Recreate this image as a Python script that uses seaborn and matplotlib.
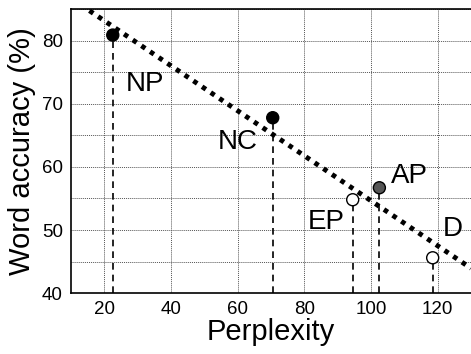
import matplotlib
matplotlib.use("Agg")
import matplotlib.pyplot as plt
import seaborn as sns
import pandas as pd

# Data
labels = ["NP", "NC", "EP", "AP", "D"]
perplexity = [22.5, 70.5, 94.5, 102.5, 118.5]
accuracy = [80.9, 67.8, 54.8, 56.7, 45.6]
face_colors = ["black", "black", "white", "#555555", "white"]
label_x = [26.5, 54.0, 81.0, 106.0, 121.5]
label_y = [73.2, 64.0, 51.3, 58.6, 50.1]

df = pd.DataFrame({"perplexity": perplexity, "accuracy": accuracy})

sns.set_style("white")
plt.rcParams['font.family'] = ['Liberation Sans', 'DejaVu Sans']
plt.rcParams['text.color'] = 'black'
plt.rcParams['axes.labelcolor'] = 'black'
plt.rcParams['xtick.color'] = 'black'
plt.rcParams['ytick.color'] = 'black'

fig = plt.figure(figsize=(4.71, 3.54), dpi=100)
ax = fig.add_axes([0.151, 0.172, 0.849, 0.802])
ax.set_xlim(10, 130)
ax.set_ylim(40, 85)

# grid: vertical at major ticks, horizontal every 5
ax.set_xticks([20, 40, 60, 80, 100, 120])
ax.set_yticks([40, 50, 60, 70, 80])
ax.set_yticks([45, 55, 65, 75, 85], minor=True)
ax.grid(True, which='major', color='#555555', linestyle=(0, (1, 1)), linewidth=0.7)
ax.grid(True, which='minor', axis='y', color='#555555', linestyle=(0, (1, 1)), linewidth=0.7)
ax.set_axisbelow(True)

# dashed drop lines
ax.vlines(df["perplexity"], 40, df["accuracy"], colors='black',
          linestyles=(0, (4, 3)), linewidth=1.2, zorder=2)

# regression trend line across full axis
sns.regplot(data=df, x="perplexity", y="accuracy", ax=ax, ci=None,
            truncate=False, scatter=False,
            line_kws={'color': 'black', 'linewidth': 3.5,
                      'linestyle': (0, (0.95, 1.2)), 'zorder': 3,
                      'dash_capstyle': 'butt'})

sns.scatterplot(data=df, x="perplexity", y="accuracy", ax=ax, s=75,
                c=face_colors, edgecolor='black', linewidth=1.0, zorder=4)

for lab, lx, ly in zip(labels, label_x, label_y):
    ax.text(lx, ly, lab, fontsize=20, va='center', ha='left', color='black', zorder=5)

ax.set_xlim(10, 130)
ax.set_ylim(40, 85)
ax.set_xlabel("Perplexity", fontsize=21, labelpad=0)
ax.set_ylabel("Word accuracy (%)", fontsize=21, labelpad=4)
ax.tick_params(axis='both', which='major', labelsize=13.5, length=0, pad=6)
ax.tick_params(which='minor', length=0)
for side in ['left', 'bottom', 'top']:
    ax.spines[side].set_color('black')
    ax.spines[side].set_linewidth(1.2)
ax.spines['right'].set_visible(False)

fig.savefig("out.png", dpi=100)
